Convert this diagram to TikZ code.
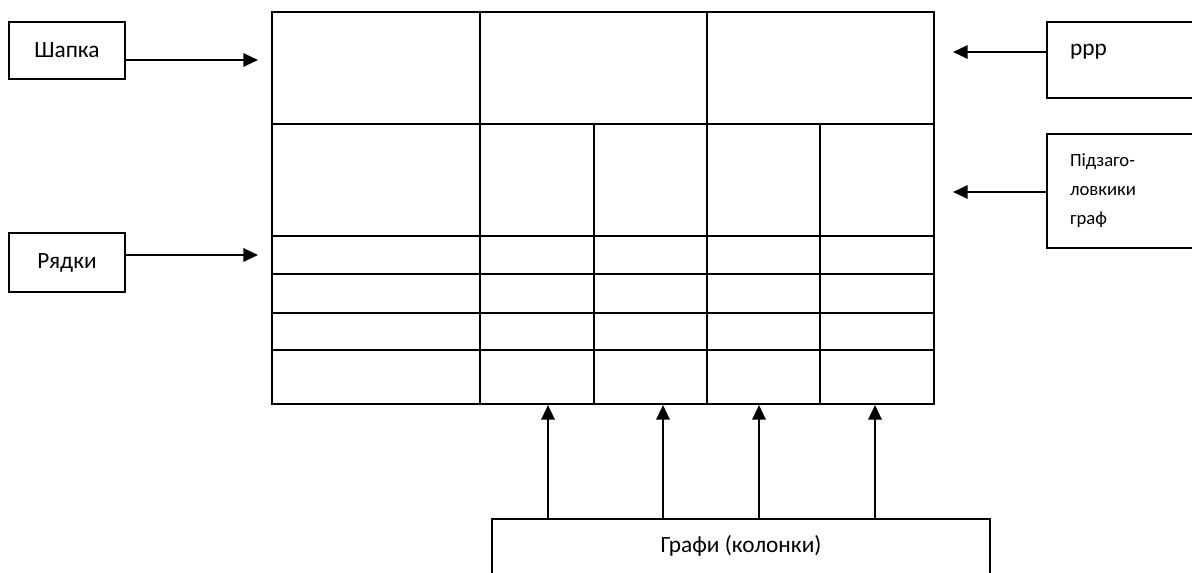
\documentclass[tikz,border=0pt]{standalone}
\usepackage{fontspec}
\setmainfont{Carlito}
\usetikzlibrary{arrows.meta}

\begin{document}
\begin{tikzpicture}[x=0.75pt,y=-0.75pt,line width=1.6pt]
 \tikzstyle{every node}=[font=\fontsize{17.5}{20}\selectfont]
 \tikzstyle{labelbox}=[draw, rectangle, inner sep=0pt]
 \tikzstyle{small}=[font=\fontsize{14}{21.75}\selectfont, align=left, inner sep=0pt]
 \tikzstyle{pointer}=[-{Triangle[length=11pt,width=10pt]}]
 \clip (0,0) rectangle (1192,573);

 % table
 \draw (272,12) rectangle (934,404);
 \draw (272,124) -- (934,124);
 \draw (272,236) -- (934,236);
 \draw (272,274) -- (934,274);
 \draw (272,313) -- (934,313);
 \draw (272,350) -- (934,350);
 \draw (480,12) -- (480,404);
 \draw (707,12) -- (707,404);
 \draw (594,124) -- (594,404);
 \draw (820,124) -- (820,404);

 % boxes
 \node[labelbox, minimum width=87pt, minimum height=43pt] (shapka) at (67,50.5) {Шапка};
 \node[labelbox, minimum width=87pt, minimum height=44pt] (ryadky) at (67,262.5) {Рядки};
 \node[labelbox, minimum width=130pt, minimum height=57pt] (ppp) at (1133.7,60) {};
 \node[labelbox, minimum width=130pt, minimum height=85.5pt] (pidzag) at (1133.7,191) {};
 \node[labelbox, minimum width=373.5pt, minimum height=61pt] (grafy) at (741,559.5) {};
 \node[anchor=west, inner sep=0pt] (ppptext) at (1069,52) {ppp};
 \node[small, anchor=west] (pidzagtext) at (1069,191) {Підзаго-\\ловкики\\граф};
 \node (grafytext) at (741,546) {Графи (колонки)};

 % arrow tips
 \coordinate (tshapka) at (258,60);
 \coordinate (tryadky) at (258,255);
 \coordinate (tppp) at (953,52);
 \coordinate (tpidzag) at (953,192);
 \coordinate (col1) at (548,405);
 \coordinate (col2) at (663,405);
 \coordinate (col3) at (759,405);
 \coordinate (col4) at (875,405);

 \draw[pointer] (shapka.east |- tshapka) -- (tshapka);
 \draw[pointer] (ryadky.east |- tryadky) -- (tryadky);
 \draw[pointer] (ppp.west |- tppp) -- (tppp);
 \draw[pointer] (pidzag.west |- tpidzag) -- (tpidzag);
 \draw[pointer] (grafy.north -| col1) -- (col1);
 \draw[pointer] (grafy.north -| col2) -- (col2);
 \draw[pointer] (grafy.north -| col3) -- (col3);
 \draw[pointer] (grafy.north -| col4) -- (col4);
\end{tikzpicture}
\end{document}
